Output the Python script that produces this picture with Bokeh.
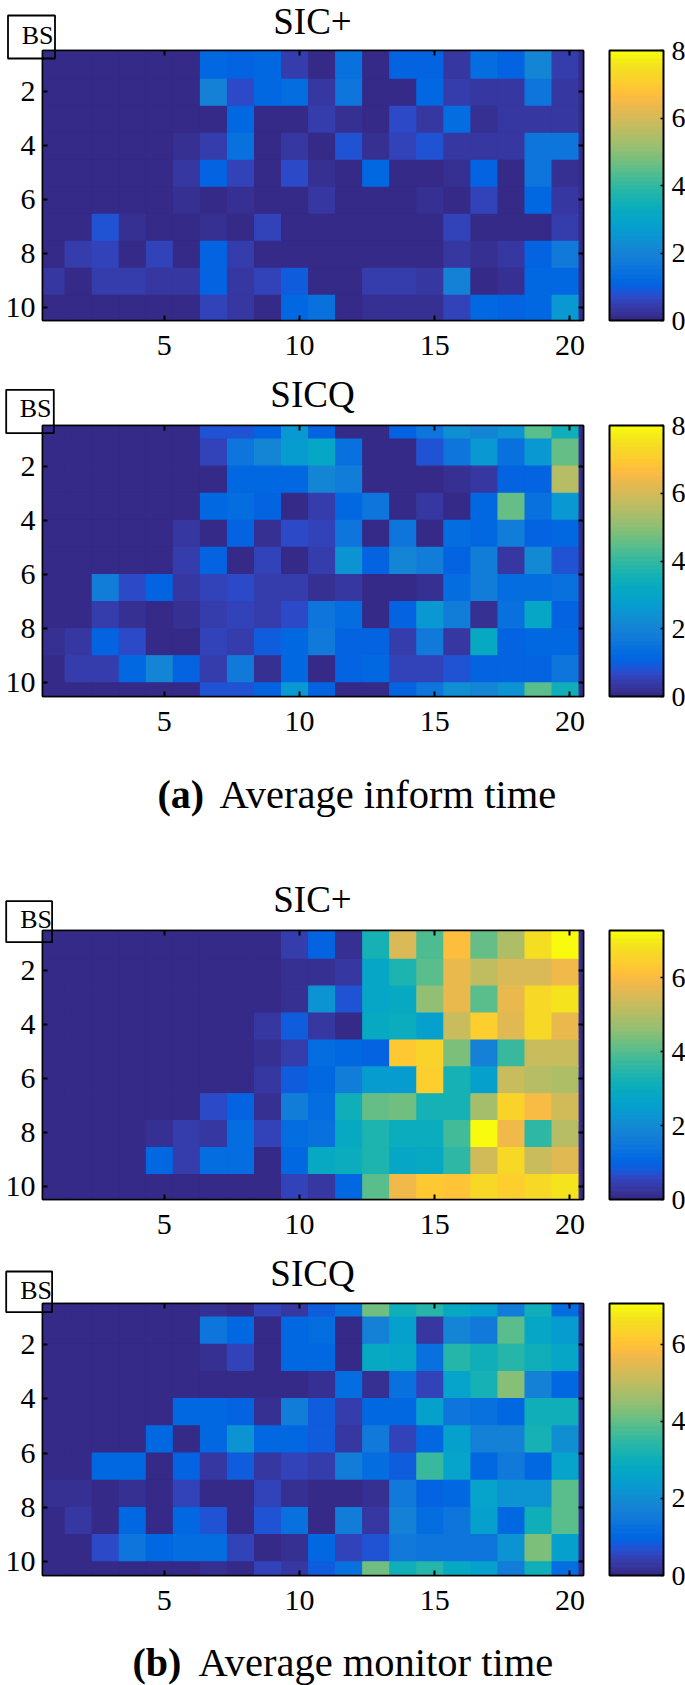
import numpy as np
from bokeh.core.properties import value
from bokeh.embed import file_html
from bokeh.resources import INLINE
from bokeh.plotting import figure
from bokeh.layouts import column
from bokeh.models import ColorBar, ColumnDataSource, FixedTicker, LinearAxis, LinearColorMapper

PARULA = [(0.2081,0.1663,0.5292),(0.2116,0.1898,0.5777),(0.2123,0.2138,0.6270),(0.2081,0.2386,0.6771),(0.1959,0.2645,0.7279),(0.1707,0.2919,0.7792),(0.1253,0.3242,0.8303),(0.0591,0.3598,0.8683),(0.0117,0.3875,0.8820),(0.0060,0.4086,0.8828),(0.0165,0.4266,0.8786),(0.0329,0.4430,0.8720),(0.0498,0.4586,0.8641),(0.0629,0.4737,0.8554),(0.0723,0.4887,0.8467),(0.0779,0.5040,0.8384),(0.0793,0.5200,0.8312),(0.0749,0.5375,0.8263),(0.0641,0.5570,0.8240),(0.0488,0.5772,0.8228),(0.0343,0.5966,0.8199),(0.0265,0.6137,0.8135),(0.0239,0.6287,0.8038),(0.0231,0.6418,0.7913),(0.0228,0.6535,0.7768),(0.0267,0.6642,0.7607),(0.0384,0.6743,0.7436),(0.0590,0.6838,0.7254),(0.0843,0.6928,0.7062),(0.1133,0.7015,0.6859),(0.1453,0.7098,0.6646),(0.1801,0.7177,0.6424),(0.2178,0.7250,0.6193),(0.2586,0.7317,0.5954),(0.3022,0.7376,0.5712),(0.3482,0.7424,0.5473),(0.3953,0.7459,0.5244),(0.4420,0.7481,0.5033),(0.4871,0.7491,0.4840),(0.5300,0.7491,0.4661),(0.5709,0.7485,0.4494),(0.6099,0.7473,0.4337),(0.6473,0.7456,0.4188),(0.6834,0.7435,0.4044),(0.7184,0.7411,0.3905),(0.7525,0.7384,0.3768),(0.7858,0.7356,0.3633),(0.8185,0.7327,0.3498),(0.8507,0.7299,0.3360),(0.8824,0.7274,0.3217),(0.9139,0.7258,0.3063),(0.9450,0.7261,0.2886),(0.9739,0.7314,0.2666),(0.9938,0.7455,0.2403),(0.9990,0.7653,0.2164),(0.9955,0.7861,0.1967),(0.9880,0.8066,0.1794),(0.9789,0.8271,0.1633),(0.9697,0.8481,0.1475),(0.9626,0.8705,0.1309),(0.9589,0.8949,0.1132),(0.9598,0.9218,0.0948),(0.9661,0.9514,0.0755),(0.9763,0.9831,0.0538)]
palette = ["#%02x%02x%02x" % tuple(int(round(c*255)) for c in rgb) for rgb in PARULA]

x_ticks = [5, 10, 15, 20]
y_ticks = [2, 4, 6, 8, 10]

sic_inform = [
 [0,0,0,0,0,0,1.2,1.05,1.2,0.4,0.05,1.4,0,1.1,1.05,0.25,1.3,1.05,2.0,0.4],
 [0,0,0,0,0,0,1.9,0.65,1.2,1.3,0.25,1.5,0,0,1.2,0.4,0.25,0.25,1.5,0.25],
 [0,0,0,0,0,0,0,1.2,0,0,0.45,0.15,0.05,0.7,0.3,1.3,0.2,0.3,0.35,0.3],
 [0,0,0,0,0,0.2,0.45,1.4,0,0.3,0,0.85,0.15,0.55,0.85,0.3,0.35,0.35,1.5,1.6],
 [0,0,0,0,0,0.35,1.0,0.5,0,0.7,0.15,0,1.15,0.1,0.1,0.15,1.1,0.1,1.5,0.15],
 [0,0,0,0,0,0.2,0,0.15,0.1,0.05,0.25,0,0,0,0.2,0.05,0.5,0.1,1.2,0.25],
 [0,0,0.8,0.2,0,0,0.15,0,0.5,0,0,0.05,0.05,0.1,0.05,0.6,0.05,0.1,0.1,0.4],
 [0.05,0.45,0.55,0,0.5,0,1.05,0.4,0.1,0,0,0.05,0.05,0.1,0.05,0.3,0.2,0.25,1.0,1.7],
 [0.25,0,0.4,0.4,0.3,0.3,1.0,0.35,0.55,0.9,0,0.05,0.4,0.4,0.35,1.9,0.05,0.15,1.2,1.2],
 [0.02,0.02,0.02,0.02,0.02,0.02,0.6,0.3,0.1,1.2,1.45,0.05,0.2,0.2,0.2,0.5,1.2,1.1,1.2,2.6],
]
sicq_inform_first = [0,0,0,0,0,0,0.85,0.8,1.05,2.6,1.0,0.05,0.05,1.1,1.5,2.3,2.1,2.4,4.4,3.4]
sicq_inform = [
 sicq_inform_first,
 [0,0,0,0,0,0,0.6,1.5,2.1,2.7,3.1,1.4,0,0,0.85,1.5,2.5,1.4,2.6,4.5],
 [0,0,0,0,0,0,0,1.2,1.2,1.2,2.1,1.8,0.05,0.05,0,0.2,0.25,1.05,1.1,5.5],
 [0,0,0,0,0,0,1.15,1.35,1.05,0.02,0.45,1.2,1.5,0.02,0.25,0,1.2,4.5,1.4,2.6],
 [0,0,0,0,0,0.3,0.02,1.05,0.2,0.7,0.5,1.5,0,1.6,0,1.3,1.2,1.8,1.1,1.15],
 [0,0,0,0,0,0.4,1.0,0,0.55,0,0.45,2.4,1.0,2.0,1.8,1.1,1.8,0.35,2.2,0.85],
 [0,0,1.8,0.65,1.05,0.25,0.55,0.65,0.4,0.4,0.2,0.35,0.1,0.1,0.2,1.3,1.8,1.3,1.3,1.4],
 [0,0,0.4,0.2,0,0.15,0.4,0.5,0.4,0.65,1.6,1.25,0,1.1,2.6,1.8,0.2,1.4,3.1,1.1],
 [0.15,0.3,1.05,0.65,0,0,0.55,0.4,0.9,1.2,1.7,1.0,1.05,0.45,1.7,0.35,3.2,1.1,1.15,1.15],
 [0.05,0.45,0.45,1.2,2.0,1.05,0.4,1.7,0.15,1.15,0,1.05,1.15,0.6,0.5,0.85,1.0,1.05,1.05,1.6],
 sicq_inform_first,
]
sic_monitor = [
 [0,0,0,0,0,0,0,0,0,0.4,1.0,0.2,3.2,5.5,3.9,6.1,4.2,4.9,6.8,7.25],
 [0,0,0,0,0,0,0,0,0,0.15,0.2,0.3,2.8,3.3,4.0,5.8,5.2,5.5,5.5,5.9],
 [0,0,0,0,0,0,0,0,0,0.2,2.2,0.75,2.75,2.85,4.6,5.7,4.05,5.7,6.6,6.9],
 [0,0,0,0,0,0,0,0,0.25,0.85,0.3,0.05,2.9,3.0,2.6,5.3,6.4,5.6,6.6,5.7],
 [0,0,0,0,0,0,0,0,0.2,0.45,1.2,1.05,1.0,6.3,6.5,4.4,1.75,3.7,5.3,5.3],
 [0,0,0,0,0,0,0,0,0.3,0.9,1.05,1.65,2.4,2.5,6.4,3.25,2.55,5.25,5.05,4.9],
 [0,0,0,0,0,0,0.6,0.95,0.2,1.6,1.25,3.1,4.2,4.3,3.25,3.2,4.8,6.5,6.0,5.4],
 [0,0,0,0,0.2,0.35,0.25,1.2,0.55,1.25,1.35,2.85,3.4,3.05,3.0,3.8,7.3,5.9,3.6,5.1],
 [0,0,0,0.1,1.05,0.45,1.25,1.25,0.1,1.05,2.9,3.05,3.3,2.75,2.9,3.55,5.45,6.7,5.25,5.6],
 [0,0,0,0,0,0,0,0,0,0.5,0.3,1.05,4.0,5.9,6.35,6.2,6.6,6.4,6.7,6.85],
]
sicq_monitor_first = [0,0,0,0,0,0,0.2,0.02,0.45,0.3,0.85,1.25,4.1,3.0,3.4,2.8,2.5,1.6,3.0,1.15]
sicq_monitor = [
 sicq_monitor_first,
 [0,0,0,0,0,0,1.4,1.0,0.1,1.05,1.15,0.05,1.7,2.5,0.3,1.8,1.45,3.9,2.7,2.4],
 [0,0,0,0,0,0,0.2,0.45,0,1.05,1.0,0.05,2.8,2.7,1.3,3.4,3.0,3.4,3.0,2.7],
 [0,0,0,0,0,0,0,0,0,0.1,0.2,1.15,0.2,1.25,0.55,2.55,3.1,4.3,1.7,1.0],
 [0,0,0,0,0,1.05,1.05,0.95,0.2,1.55,0.85,0.4,1.05,1.0,2.5,1.4,1.25,1.0,3.05,3.05],
 [0,0,0,0,1.1,0,1.0,2.15,1.0,1.1,0.85,0.25,1.5,0.45,1.0,2.5,1.7,1.7,3.1,2.0],
 [0.1,0.1,1.05,1.0,0,0.9,0.25,0.8,0.25,0.45,0.4,1.55,1.2,0.85,3.6,2.6,1.0,1.5,1.0,2.6],
 [0.15,0.15,0.01,0.15,0.01,0.5,0.05,0,0.5,0.2,0,0.05,0.2,1.45,0.9,1.1,2.6,2.2,2.2,3.9],
 [0.02,0.3,0.02,1.0,0.05,1.05,0.7,0.1,0.7,1.3,0,1.55,0.3,1.75,1.2,1.35,2.5,1.05,3.0,3.9],
 [0.1,0,0.6,1.35,1.05,1.15,1.2,0.5,0.03,0.2,1.05,0.5,0.75,1.45,1.35,1.35,1.35,2.1,4.2,2.5],
 sicq_monitor_first,
]

panel_titles = ["SIC+", "SICQ", "SIC+", "SICQ"]
caption_bold = ["(a)", "(b)"]
caption_text = ["Average inform time", "Average monitor time"]
corner_label = "BS"

SERIF = "Liberation Serif"
INK = "#000000"


def panel(rows, vmax, cb_ticks, offset_rows, height, top, frame_h):
    m = np.array(rows, float)
    xe = np.concatenate(([0.5], np.arange(1, 21) + 0.34, [20.5]))
    ye = (np.concatenate(([0.5], np.arange(1, 10) + 0.57, [10.5])) if offset_rows
          else np.concatenate(([0.5], np.arange(1, 11), [10.5])))
    m = np.hstack([m, np.zeros((m.shape[0], 1))])
    L, T = np.meshgrid(xe[:-1], ye[:-1])
    R, B = np.meshgrid(xe[1:], ye[1:])
    mapper = LinearColorMapper(palette=palette, low=0, high=vmax)
    p = figure(width=685, height=height, x_range=(0.5, 20.5), y_range=(10.5, 0.5),
               frame_width=541, frame_height=frame_h, toolbar_location=None,
               output_backend="svg", min_border_left=42, min_border_right=102,
               min_border_top=top, min_border_bottom=height - top - frame_h,
               background_fill_color=None, border_fill_color=None)
    tx = {"field": "v", "transform": mapper}
    src = ColumnDataSource(dict(l=L.ravel(), r=R.ravel(), t=T.ravel(), b=B.ravel(), v=m.ravel()))
    p.quad(left="l", right="r", top="t", bottom="b", source=src, fill_color=tx, line_color=tx, line_width=1.2)
    p.grid.visible = False
    p.xaxis.ticker = FixedTicker(ticks=x_ticks)
    p.yaxis.ticker = FixedTicker(ticks=y_ticks)
    for ax in (p.xaxis[0], p.yaxis[0]):
        ax.major_label_text_font = SERIF
        ax.major_label_text_font_size = "30px"
        ax.major_label_text_color = INK
        ax.major_tick_in = 5
        ax.major_tick_out = 0
        ax.minor_tick_line_color = None
        ax.axis_line_color = INK
        ax.axis_line_width = 1.5
        ax.major_tick_line_color = INK
        ax.major_tick_line_width = 2
    p.xaxis[0].major_label_standoff = 15
    p.yaxis[0].major_label_standoff = 7
    top_ax = LinearAxis(ticker=FixedTicker(ticks=x_ticks), major_tick_in=5, major_tick_out=0,
                        minor_tick_line_color=None, major_label_overrides={t: "" for t in x_ticks},
                        major_label_standoff=0, axis_line_color=INK, axis_line_width=1.5, major_tick_line_width=2)
    right_ax = LinearAxis(ticker=FixedTicker(ticks=y_ticks), major_tick_in=5, major_tick_out=0,
                          minor_tick_line_color=None, major_label_overrides={t: "" for t in y_ticks},
                          major_label_standoff=0, axis_line_color=INK, axis_line_width=1.5, major_tick_line_width=2)
    p.add_layout(top_ax, "above")
    p.add_layout(right_ax, "right")
    p.outline_line_color = INK
    p.outline_line_width = 1.5
    cb = ColorBar(color_mapper=mapper, location=(567, 0), width=54, height=frame_h, padding=0, margin=0,
                  ticker=FixedTicker(ticks=cb_ticks), major_tick_in=3, major_tick_out=0,
                  major_tick_line_color=INK, major_tick_line_width=1.5, minor_tick_line_color=None,
                  bar_line_color=INK, bar_line_width=2, border_line_color=None, background_fill_color=None,
                  major_label_text_font=SERIF, major_label_text_font_size="28px",
                  major_label_text_color=INK, label_standoff=8)
    p.add_layout(cb, "center")
    return p


f1 = panel(sic_inform, 8, [0, 2, 4, 6, 8], True, 370, 50, 270)
f2 = panel(sicq_inform, 8, [0, 2, 4, 6, 8], False, 510, 55, 271)
f3 = panel(sic_monitor, 7.28, [0, 2, 4, 6], True, 360, 50, 269)
f4 = panel(sicq_monitor, 7.05, [0, 2, 4, 6], False, 445, 63, 272)

# Texts and boxes that straddle the axes frames live on one transparent page-sized sheet.
sheet = figure(width=685, height=1685, x_range=(0, 685), y_range=(1685, 0), toolbar_location=None,
               output_backend="svg", min_border=0, background_fill_color=None, border_fill_color=None,
               outline_line_color=None, styles={"position": "absolute", "left": "0px", "top": "0px",
                                                "pointer-events": "none"})
sheet.axis.visible = False
sheet.grid.visible = False
font = value(SERIF)
sheet.text(x=[312, 312, 312, 312], y=[21, 394, 899, 1273], text=panel_titles, text_font=font,
           text_font_size="37px", text_color=INK, text_align="center", text_baseline="alphabetic")
sheet.quad(left=[7.5, 5.7, 5.7, 5.7], right=[54.5, 53.3, 51.6, 51.6], top=[15, 389.3, 900.7, 1271],
           bottom=[58, 432.7, 941.7, 1311.7], fill_color=None, line_color=INK, line_width=1.8)
sheet.text(x=[53, 51, 51.5, 51.5], y=[35, 408, 919, 1290], text=[corner_label] * 4, text_font=font,
           text_font_size="26px", text_color=INK, text_align="right", text_baseline="alphabetic")
sheet.text(x=[157, 132], y=[794, 1662], text=caption_bold, text_font=font, text_font_style="bold",
           text_font_size="40px", text_color=INK, text_baseline="alphabetic")
sheet.text(x=[219, 198], y=[794, 1662], text=caption_text, text_font=font,
           text_font_size="40.5px", text_color=INK, text_baseline="alphabetic")

page = column(f1, f2, f3, f4, spacing=0)
open("out.html", "w").write(file_html([page, sheet], INLINE))
